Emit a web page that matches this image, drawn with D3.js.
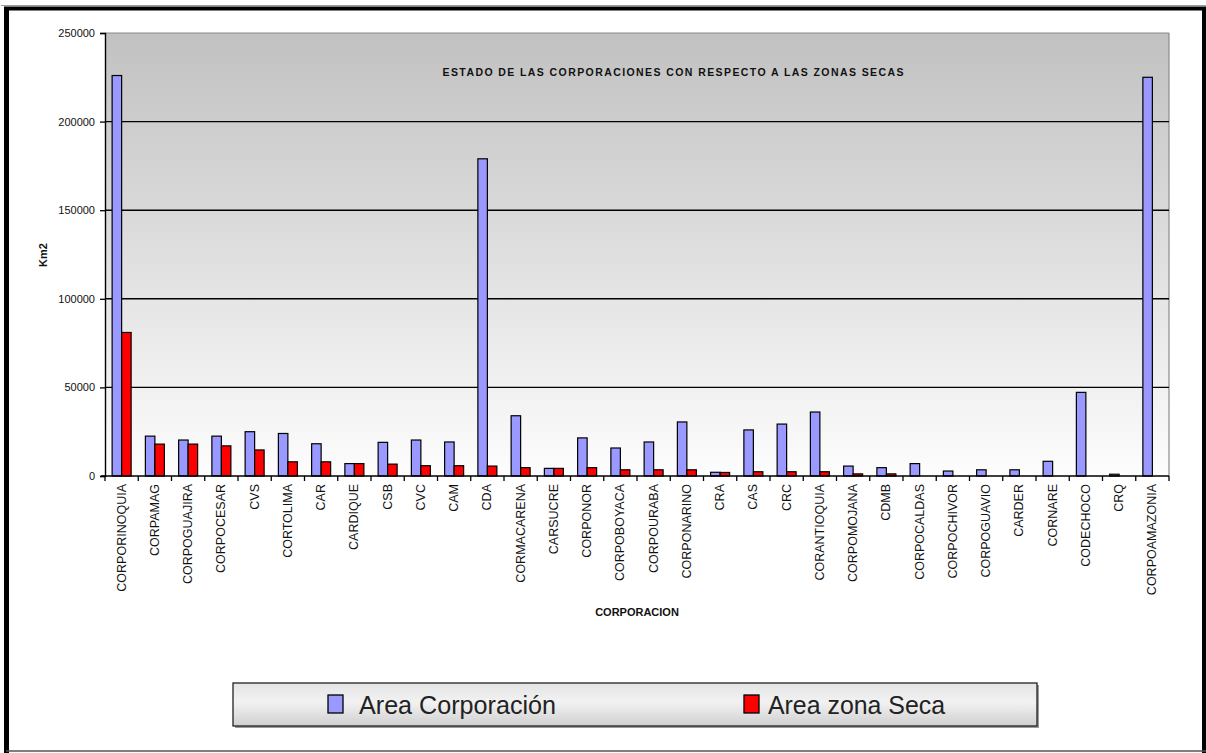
<!DOCTYPE html>
<html>
<head>
<meta charset="utf-8">
<script src="https://cdn.jsdelivr.net/npm/d3@7"></script>
<style>
  html, body { margin: 0; padding: 0; background: #ffffff; }
  svg { display: block; }
  text { font-family: "Liberation Sans", Arial, sans-serif; }
</style>
</head>
<body>
<svg id="chart" width="1206" height="753"></svg>
<script>
const categories = ["CORPORINOQUIA","CORPAMAG","CORPOGUAJIRA","CORPOCESAR","CVS","CORTOLIMA","CAR","CARDIQUE","CSB","CVC","CAM","CDA","CORMACARENA","CARSUCRE","CORPONOR","CORPOBOYACA","CORPOURABA","CORPONARINO","CRA","CAS","CRC","CORANTIOQUIA","CORPOMOJANA","CDMB","CORPOCALDAS","CORPOCHIVOR","CORPOGUAVIO","CARDER","CORNARE","CODECHOCO","CRQ","CORPOAMAZONIA"];
const areaCorporacion = [226000,22500,20300,22500,25000,24000,18200,7000,19000,20300,19200,179000,34000,4300,21500,15800,19200,30500,2100,26000,29300,36100,5600,4700,7000,2800,3500,3500,8300,47200,1000,225000];
const areaZonaSeca = [81000,18000,18000,17000,14700,8000,8000,7000,6700,5800,5800,5600,4700,4300,4700,3500,3500,3500,2000,2400,2400,2400,1200,1200,0,0,0,0,0,0,0,0];
const seriesNames = ["Area Corporación","Area zona Seca"];
const seriesColors = ["#9999ff","#ff0000"];
const yTicks = [0,50000,100000,150000,200000,250000];
const titleText = "ESTADO DE LAS CORPORACIONES CON RESPECTO A LAS ZONAS SECAS";
const xTitle = "CORPORACION";
const yTitle = "Km2";

const svg = d3.select("#chart");
const defs = svg.append("defs");

const plot = {left: 105, right: 1169, top: 33, bottom: 476};

const bgGrad = defs.append("linearGradient").attr("id","bg").attr("x1",0).attr("y1",0).attr("x2",0).attr("y2",1);
bgGrad.append("stop").attr("offset","0%").attr("stop-color","#c1c1c1");
bgGrad.append("stop").attr("offset","100%").attr("stop-color","#fdfdfd");

const legGrad = defs.append("linearGradient").attr("id","leg").attr("x1",0).attr("y1",0).attr("x2",0).attr("y2",1);
legGrad.append("stop").attr("offset","0%").attr("stop-color","#e4e4e4");
legGrad.append("stop").attr("offset","45%").attr("stop-color","#f2f2f2");
legGrad.append("stop").attr("offset","100%").attr("stop-color","#cfcfcf");

// outer frame
svg.append("line").attr("x1",1).attr("x2",1206).attr("y1",5.5).attr("y2",5.5).attr("stroke","#9a9a9a").attr("stroke-width",1);
svg.append("line").attr("x1",4).attr("x2",1206).attr("y1",8.5).attr("y2",8.5).attr("stroke","#000").attr("stroke-width",4);
svg.append("line").attr("x1",6.5).attr("x2",6.5).attr("y1",7).attr("y2",753).attr("stroke","#000").attr("stroke-width",5);
svg.append("line").attr("x1",1204).attr("x2",1204).attr("y1",7).attr("y2",753).attr("stroke","#000").attr("stroke-width",4);
svg.append("line").attr("x1",6).attr("x2",1206).attr("y1",751).attr("y2",751).attr("stroke","#555").attr("stroke-width",1.5);

// scales
const x = d3.scaleBand().domain(categories).range([plot.left, plot.right]).paddingInner(0).paddingOuter(0);
const xSub = d3.scaleBand().domain(seriesNames).range([0, x.bandwidth()]).paddingInner(0).paddingOuter(0.75);
const y = d3.scaleLinear().domain([0, 250000]).range([plot.bottom, plot.top]);

// plot background
svg.append("rect").attr("x",plot.left).attr("y",plot.top).attr("width",plot.right-plot.left).attr("height",plot.bottom-plot.top).attr("fill","url(#bg)");
svg.append("line").attr("x1",plot.left).attr("x2",plot.right).attr("y1",plot.top).attr("y2",plot.top).attr("stroke","#8a8a8a").attr("stroke-width",1.2);
svg.append("line").attr("x1",plot.right).attr("x2",plot.right).attr("y1",plot.top).attr("y2",plot.bottom).attr("stroke","#8a8a8a").attr("stroke-width",1.2);

// gridlines
svg.append("g").selectAll("line").data(yTicks.filter(t => t > 0 && t < 250000)).join("line")
  .attr("x1",plot.left).attr("x2",plot.right)
  .attr("y1",d => y(d)).attr("y2",d => y(d))
  .attr("stroke","#000").attr("stroke-width",1.4);

// y axis
const yAxis = d3.axisLeft(y).tickValues(yTicks).tickSize(5).tickPadding(5).tickFormat(d3.format("d"));
const gy = svg.append("g").attr("transform",`translate(${plot.left},0)`).call(yAxis);
gy.select(".domain").attr("stroke","#000").attr("stroke-width",1.4);
gy.selectAll(".tick line").attr("stroke","#000").attr("stroke-width",1.3);
gy.selectAll(".tick text").attr("font-size","11px").attr("fill","#111").attr("font-family","'Liberation Sans', Arial, sans-serif");

// bars
const data = categories.map((c, i) => ({cat: c, vals: [areaCorporacion[i], areaZonaSeca[i]]}));
const groups = svg.append("g").selectAll("g").data(data).join("g")
  .attr("transform", d => `translate(${x(d.cat)},0)`);
groups.selectAll("rect")
  .data(d => d.vals.map((v, k) => ({name: seriesNames[k], color: seriesColors[k], v})).filter(e => e.v > 0))
  .join("rect")
  .attr("x", e => xSub(e.name))
  .attr("width", xSub.bandwidth())
  .attr("y", e => y(e.v))
  .attr("height", e => y(0) - y(e.v))
  .attr("fill", e => e.color)
  .attr("stroke","#000").attr("stroke-width",1.2);

// x axis
const xAxis = d3.axisBottom(x).tickSize(0).tickFormat(() => "");
const gx = svg.append("g").attr("transform",`translate(0,${plot.bottom})`).call(xAxis);
gx.select(".domain").remove();
svg.append("line").attr("x1",plot.left-4).attr("x2",plot.right).attr("y1",plot.bottom).attr("y2",plot.bottom).attr("stroke","#000").attr("stroke-width",1.6);
const boundaries = categories.map(c => x(c)).concat([plot.right]);
svg.append("g").selectAll("line").data(boundaries).join("line")
  .attr("x1",d => d).attr("x2",d => d).attr("y1",plot.bottom).attr("y2",plot.bottom+5)
  .attr("stroke","#000").attr("stroke-width",1.3);

// category labels
svg.append("g").selectAll("text").data(categories).join("text")
  .attr("transform", c => `translate(${x(c) + x.bandwidth()/2 - 0.5},484) rotate(-90)`)
  .attr("text-anchor","end").attr("dy","0.35em")
  .attr("font-size","12.5px").attr("fill","#111")
  .text(c => c);

// titles
svg.append("text").attr("x",673).attr("y",76).attr("text-anchor","middle")
  .attr("font-size","10.5px").attr("font-weight","bold").attr("fill","#111")
  .attr("textLength",461).attr("lengthAdjust","spacing")
  .text(titleText);
svg.append("text").attr("x",637).attr("y",616).attr("text-anchor","middle")
  .attr("font-size","11px").attr("font-weight","bold").attr("fill","#111")
  .text(xTitle);
svg.append("text").attr("transform","translate(47,255) rotate(-90)").attr("text-anchor","middle")
  .attr("font-size","11px").attr("font-weight","bold").attr("fill","#111")
  .text(yTitle);

// legend
const leg = svg.append("g");
leg.append("rect").attr("x",235).attr("y",685).attr("width",804).attr("height",43).attr("fill","#9a9a9a");
leg.append("rect").attr("x",233).attr("y",683).attr("width",804).attr("height",43)
  .attr("fill","url(#leg)").attr("stroke","#222").attr("stroke-width",1.3);
const legItems = [
  {name: seriesNames[0], color: seriesColors[0], sx: 328, tx: 359, tw: 197},
  {name: seriesNames[1], color: seriesColors[1], sx: 744, tx: 768, tw: 177}
];
leg.selectAll("g.item").data(legItems).join("g").attr("class","item").each(function(d) {
  const g = d3.select(this);
  g.append("rect").attr("x", d.sx).attr("y", 695).attr("width", 15).attr("height", 18)
    .attr("fill", d.color).attr("stroke","#000").attr("stroke-width",1.3);
  g.append("text").attr("x", d.tx).attr("y", 714)
    .attr("font-size","26px").attr("fill","#222")
    .style("font-family","'Liberation Sans Narrow','Arial Narrow','Liberation Sans',Arial,sans-serif")
    .attr("textLength", d.tw).attr("lengthAdjust","spacingAndGlyphs")
    .text(d.name);
});
</script>
</body>
</html>
